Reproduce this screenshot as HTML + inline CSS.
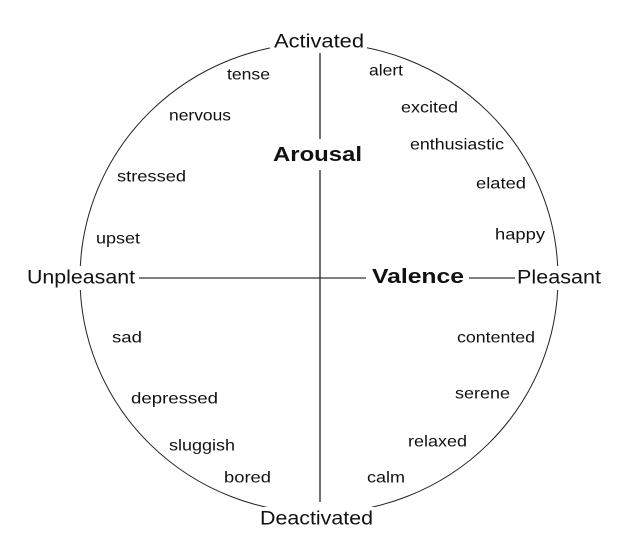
<!DOCTYPE html>
<html><head><meta charset="utf-8"><style>
html,body{margin:0;padding:0;background:#fff;}
svg{display:block;}
text{font-family:"Liberation Sans",Arial,sans-serif;fill:#111;dominant-baseline:central;}
.s{font-size:16px;}
.l{font-size:19px;}
.b{font-size:20px;font-weight:bold;}
</style></head><body>
<svg width="634" height="543" viewBox="0 0 634 543" xmlns="http://www.w3.org/2000/svg">
<ellipse cx="319" cy="278" rx="239" ry="235" fill="none" stroke="#222" stroke-width="1"/>
<line x1="320" y1="53" x2="320" y2="139" stroke="#111" stroke-width="1.2"/>
<line x1="320" y1="170" x2="320" y2="502" stroke="#111" stroke-width="1.2"/>
<line x1="139" y1="278" x2="366" y2="278" stroke="#333" stroke-width="1.2"/>
<line x1="469" y1="278" x2="515" y2="278" stroke="#333" stroke-width="1.2"/>
<rect x="270" y="31" width="97" height="22" fill="#fff"/>
<rect x="256" y="507" width="121" height="24" fill="#fff"/>
<rect x="24" y="266" width="113" height="24" fill="#fff"/>
<rect x="515" y="266" width="88" height="24" fill="#fff"/>
<g lengthAdjust="spacingAndGlyphs">
<text class="l" x="274" y="42" textLength="90" lengthAdjust="spacingAndGlyphs">Activated</text>
<text class="l" x="260" y="519" textLength="113" lengthAdjust="spacingAndGlyphs">Deactivated</text>
<text class="l" x="27" y="278" textLength="108" lengthAdjust="spacingAndGlyphs">Unpleasant</text>
<text class="l" x="517" y="278" textLength="84" lengthAdjust="spacingAndGlyphs">Pleasant</text>
<text class="b" x="273" y="155" textLength="89" lengthAdjust="spacingAndGlyphs">Arousal</text>
<text class="b" x="372" y="277" textLength="92" lengthAdjust="spacingAndGlyphs">Valence</text>
<text class="s" x="227" y="75" textLength="43" lengthAdjust="spacingAndGlyphs">tense</text>
<text class="s" x="169" y="116" textLength="62" lengthAdjust="spacingAndGlyphs">nervous</text>
<text class="s" x="117" y="177" textLength="69" lengthAdjust="spacingAndGlyphs">stressed</text>
<text class="s" x="96" y="239" textLength="44" lengthAdjust="spacingAndGlyphs">upset</text>
<text class="s" x="369" y="71" textLength="34" lengthAdjust="spacingAndGlyphs">alert</text>
<text class="s" x="401" y="108" textLength="57" lengthAdjust="spacingAndGlyphs">excited</text>
<text class="s" x="410" y="145" textLength="94" lengthAdjust="spacingAndGlyphs">enthusiastic</text>
<text class="s" x="476" y="184" textLength="50" lengthAdjust="spacingAndGlyphs">elated</text>
<text class="s" x="495" y="235" textLength="50" lengthAdjust="spacingAndGlyphs">happy</text>
<text class="s" x="112" y="338" textLength="30" lengthAdjust="spacingAndGlyphs">sad</text>
<text class="s" x="131" y="399" textLength="87" lengthAdjust="spacingAndGlyphs">depressed</text>
<text class="s" x="169" y="446" textLength="66" lengthAdjust="spacingAndGlyphs">sluggish</text>
<text class="s" x="224" y="478" textLength="47" lengthAdjust="spacingAndGlyphs">bored</text>
<text class="s" x="457" y="338" textLength="78" lengthAdjust="spacingAndGlyphs">contented</text>
<text class="s" x="455" y="394" textLength="55" lengthAdjust="spacingAndGlyphs">serene</text>
<text class="s" x="408" y="442" textLength="59" lengthAdjust="spacingAndGlyphs">relaxed</text>
<text class="s" x="367" y="478" textLength="38" lengthAdjust="spacingAndGlyphs">calm</text>
</g>
</svg>
</body></html>
